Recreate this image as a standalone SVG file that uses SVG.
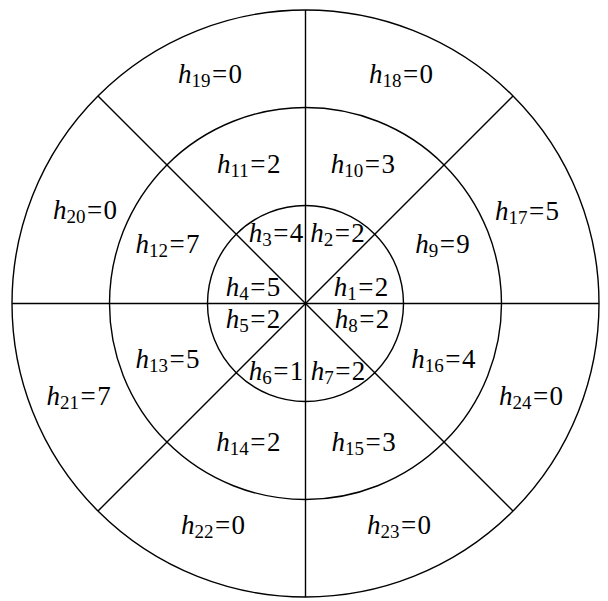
<svg xmlns="http://www.w3.org/2000/svg" width="608" height="601" viewBox="0 0 608 601">
<style>
.c{fill:none;stroke:#000;stroke-width:1.4}
.l{stroke:#000;stroke-width:1.4}
text{font-family:"Liberation Serif","Times New Roman",serif;font-size:27px;fill:#000;text-anchor:middle}
.h{font-style:italic}
.s{font-size:19px}
</style>
<rect width="608" height="601" fill="#fff"/>
<g id="circles">
<circle class="c" cx="305.5" cy="303.5" r="293.5"/>
<circle class="c" cx="305.5" cy="303.5" r="196"/>
<circle class="c" cx="305.5" cy="303.5" r="98"/>
</g>
<g id="lines">
<line class="l" x1="305.5" y1="10" x2="305.5" y2="597"/>
<line class="l" x1="12" y1="303.5" x2="599" y2="303.5"/>
<line class="l" x1="98" y1="96" x2="513" y2="511"/>
<line class="l" x1="98" y1="511" x2="513" y2="96"/>
</g>
<g id="labels">
<text x="276" y="241.7"><tspan class="h">h</tspan><tspan class="s" dy="4">3</tspan><tspan dy="-4" dx="1.5">=</tspan><tspan dx="1.5">4</tspan></text>
<text x="337.5" y="241.7"><tspan class="h">h</tspan><tspan class="s" dy="4">2</tspan><tspan dy="-4" dx="1.5">=</tspan><tspan dx="1.5">2</tspan></text>
<text x="253" y="296"><tspan class="h">h</tspan><tspan class="s" dy="4">4</tspan><tspan dy="-4" dx="1.5">=</tspan><tspan dx="1.5">5</tspan></text>
<text x="361" y="296"><tspan class="h">h</tspan><tspan class="s" dy="4">1</tspan><tspan dy="-4" dx="1.5">=</tspan><tspan dx="1.5">2</tspan></text>
<text x="253" y="328.3"><tspan class="h">h</tspan><tspan class="s" dy="4">5</tspan><tspan dy="-4" dx="1.5">=</tspan><tspan dx="1.5">2</tspan></text>
<text x="362" y="328.3"><tspan class="h">h</tspan><tspan class="s" dy="4">8</tspan><tspan dy="-4" dx="1.5">=</tspan><tspan dx="1.5">2</tspan></text>
<text x="276" y="380"><tspan class="h">h</tspan><tspan class="s" dy="4">6</tspan><tspan dy="-4" dx="1.5">=</tspan><tspan dx="1.5">1</tspan></text>
<text x="338" y="380"><tspan class="h">h</tspan><tspan class="s" dy="4">7</tspan><tspan dy="-4" dx="1.5">=</tspan><tspan dx="1.5">2</tspan></text>
<text x="248.7" y="173.3"><tspan class="h">h</tspan><tspan class="s" dy="4">11</tspan><tspan dy="-4" dx="1.5">=</tspan><tspan dx="1.5">2</tspan></text>
<text x="362.8" y="173.3"><tspan class="h">h</tspan><tspan class="s" dy="4">10</tspan><tspan dy="-4" dx="1.5">=</tspan><tspan dx="1.5">3</tspan></text>
<text x="167.5" y="253.3"><tspan class="h">h</tspan><tspan class="s" dy="4">12</tspan><tspan dy="-4" dx="1.5">=</tspan><tspan dx="1.5">7</tspan></text>
<text x="442.5" y="253.3"><tspan class="h">h</tspan><tspan class="s" dy="4">9</tspan><tspan dy="-4" dx="1.5">=</tspan><tspan dx="1.5">9</tspan></text>
<text x="167.5" y="368.3"><tspan class="h">h</tspan><tspan class="s" dy="4">13</tspan><tspan dy="-4" dx="1.5">=</tspan><tspan dx="1.5">5</tspan></text>
<text x="443.3" y="368.3"><tspan class="h">h</tspan><tspan class="s" dy="4">16</tspan><tspan dy="-4" dx="1.5">=</tspan><tspan dx="1.5">4</tspan></text>
<text x="248.3" y="450.7"><tspan class="h">h</tspan><tspan class="s" dy="4">14</tspan><tspan dy="-4" dx="1.5">=</tspan><tspan dx="1.5">2</tspan></text>
<text x="363.7" y="450.7"><tspan class="h">h</tspan><tspan class="s" dy="4">15</tspan><tspan dy="-4" dx="1.5">=</tspan><tspan dx="1.5">3</tspan></text>
<text x="210" y="83"><tspan class="h">h</tspan><tspan class="s" dy="4">19</tspan><tspan dy="-4" dx="1.5">=</tspan><tspan dx="1.5">0</tspan></text>
<text x="401" y="83"><tspan class="h">h</tspan><tspan class="s" dy="4">18</tspan><tspan dy="-4" dx="1.5">=</tspan><tspan dx="1.5">0</tspan></text>
<text x="85" y="219.3"><tspan class="h">h</tspan><tspan class="s" dy="4">20</tspan><tspan dy="-4" dx="1.5">=</tspan><tspan dx="1.5">0</tspan></text>
<text x="527" y="220"><tspan class="h">h</tspan><tspan class="s" dy="4">17</tspan><tspan dy="-4" dx="1.5">=</tspan><tspan dx="1.5">5</tspan></text>
<text x="78.7" y="405"><tspan class="h">h</tspan><tspan class="s" dy="4">21</tspan><tspan dy="-4" dx="1.5">=</tspan><tspan dx="1.5">7</tspan></text>
<text x="531" y="405"><tspan class="h">h</tspan><tspan class="s" dy="4">24</tspan><tspan dy="-4" dx="1.5">=</tspan><tspan dx="1.5">0</tspan></text>
<text x="213" y="534"><tspan class="h">h</tspan><tspan class="s" dy="4">22</tspan><tspan dy="-4" dx="1.5">=</tspan><tspan dx="1.5">0</tspan></text>
<text x="399" y="534"><tspan class="h">h</tspan><tspan class="s" dy="4">23</tspan><tspan dy="-4" dx="1.5">=</tspan><tspan dx="1.5">0</tspan></text>
</g>
</svg>
